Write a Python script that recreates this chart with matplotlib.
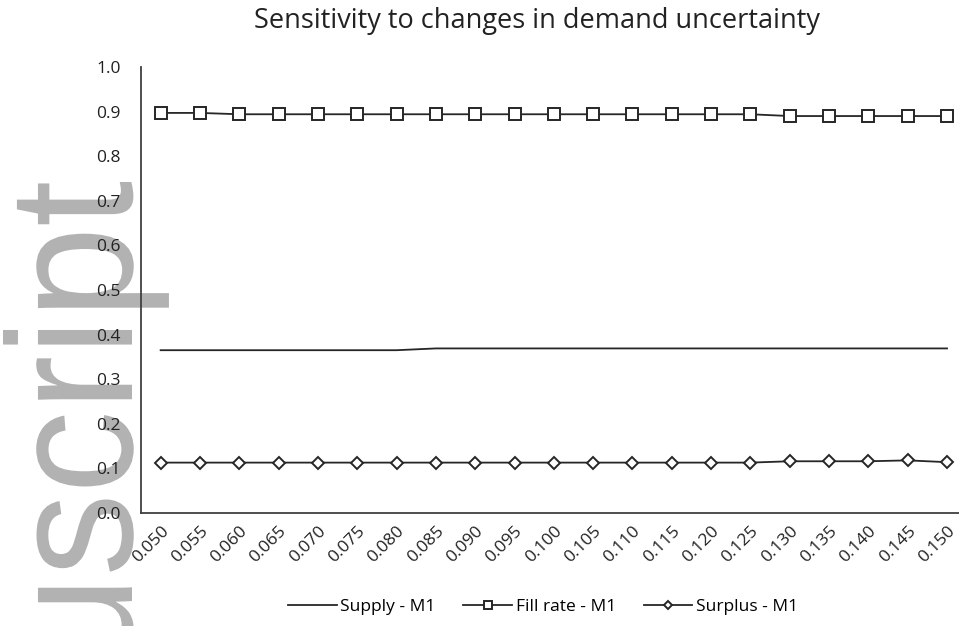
import numpy as np
import matplotlib
matplotlib.use("Agg")
import matplotlib.pyplot as plt
from matplotlib.textpath import TextPath
from matplotlib.patches import PathPatch
from matplotlib.font_manager import FontProperties
from matplotlib.transforms import Affine2D

# demand uncertainty levels (x categories)
uncertainty = ["0.050", "0.055", "0.060", "0.065", "0.070", "0.075", "0.080",
               "0.085", "0.090", "0.095", "0.100", "0.105", "0.110", "0.115",
               "0.120", "0.125", "0.130", "0.135", "0.140", "0.145", "0.150"]

supply_m1 = [0.365] * 7 + [0.369] * 14
fill_rate_m1 = [0.897, 0.897] + [0.894] * 14 + [0.890] * 5
surplus_m1 = [0.113] * 16 + [0.116, 0.116, 0.116, 0.118, 0.114]

plt.rcParams['font.family'] = ['Open Sans', 'DejaVu Sans']
line_col = '#262626'

fig = plt.figure(figsize=(9.59, 6.26), dpi=100)
ax = fig.add_axes([0.147, 0.1805, 0.861, 0.7125])
ax.patch.set_alpha(0)

x = np.arange(len(uncertainty))
ax.plot(x, supply_m1, color=line_col, lw=1.3, label='Supply - M1')
ax.plot(x, fill_rate_m1, color=line_col, lw=1.3, marker='s', ms=8,
        mfc='white', mec=line_col, mew=1.4, label='Fill rate - M1')
ax.plot(x, surplus_m1, color=line_col, lw=1.3, marker='D', ms=6,
        mfc='white', mec=line_col, mew=1.4, label='Surplus - M1')

ax.set_xlim(-0.5, len(uncertainty) - 0.5)
ax.set_ylim(0, 1.0)
ax.set_yticks(np.arange(0, 1.01, 0.1))
ax.set_yticklabels([f"{v:.1f}" for v in np.arange(0, 1.01, 0.1)])
ax.set_xticks(x)
ax.set_xticklabels(uncertainty, rotation=45, ha='right', va='top',
                   rotation_mode='anchor')
ax.tick_params(axis='y', length=0, pad=14.4, labelsize=12.5, colors='#222222')
ax.tick_params(axis='x', length=0, pad=7, labelsize=12.5, colors='#222222')

for s in ['top', 'right']:
    ax.spines[s].set_visible(False)
for s in ['left', 'bottom']:
    ax.spines[s].set_color('#404040')
    ax.spines[s].set_linewidth(1.3)

fig.text(537 / 959, 1 - 21 / 626, "Sensitivity to changes in demand uncertainty",
         ha='center', va='center', fontsize=19.5, color='#222222')

fig.legend(loc='center', bbox_to_anchor=(543 / 959, 1 - 607 / 626), ncol=3,
           frameon=False, fontsize=12.5, handlelength=2.8, columnspacing=1.6,
           handletextpad=0.2, markerscale=0.7)

# grey watermark on the left side
tp = TextPath((0, 0), "Manuscript", size=178,
              prop=FontProperties(family='Liberation Sans'))
ext = tp.get_extents()
tr = Affine2D().translate(-ext.x1, 0).scale(0.93, 1).rotate_deg(90).translate(132, 444)
wm = PathPatch(tp, transform=tr, facecolor='#b2b2b2', lw=0, zorder=-1)
fig.add_artist(wm)

fig.savefig("out.png", dpi=100)
